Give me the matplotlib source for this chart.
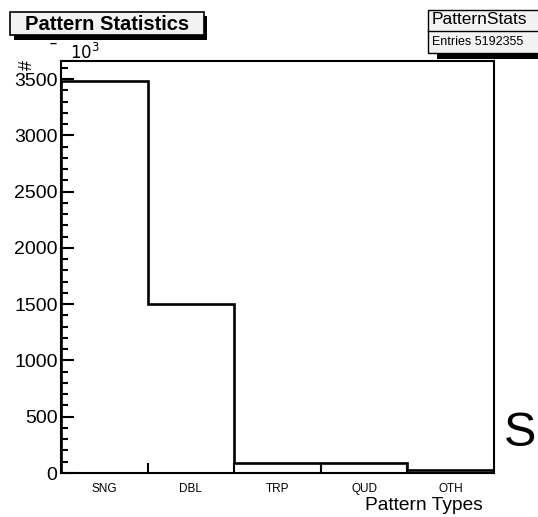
import numpy as np
import matplotlib
matplotlib.use("Agg")
import matplotlib.pyplot as plt
from matplotlib.patches import Rectangle

plt.rcParams["font.family"] = ["Liberation Sans", "DejaVu Sans"]

# pattern counts, in units of 10^3
categories = ["SNG", "DBL", "TRP", "QUD", "OTH"]
counts_k = [3485, 1505, 85, 87, 30]
entries = 5192355

W, H = 538, 517


def fx(x):
    return x / W


def fy(y):
    return 1 - y / H


fig = plt.figure(figsize=(W / 100, H / 100), dpi=100)
ax = fig.add_axes([fx(61), fy(473), fx(494) - fx(61), fy(61) - fy(473)])

edges = np.arange(len(categories) + 1)
ax.stairs(counts_k, edges, baseline=0, color="black", linewidth=1.9)

ax.set_xlim(0, len(categories))
ax.set_ylim(0, 3660)

# x: ticks on the bin edges, labels at bin centres
ax.set_xticks(edges[1:-1])
ax.set_xticklabels([])
ax.set_xticks(edges[:-1] + 0.5, minor=True)
ax.set_xticklabels(categories, minor=True, fontsize=8.5)
ax.tick_params(axis="x", which="major", direction="in", length=7.5, width=1.5)
ax.tick_params(axis="x", which="minor", length=0, pad=7)

ax.set_yticks(np.arange(0, 3501, 500))
ax.set_yticks(np.arange(0, 3601, 100), minor=True)
ax.tick_params(axis="y", which="major", direction="in", length=9.5, width=1.5,
               labelsize=14, pad=2.5)
ax.tick_params(axis="y", which="minor", direction="in", length=5, width=1.5)

for s in ax.spines.values():
    s.set_linewidth(1.5)

fig.text(fx(483), fy(505), "Pattern Types", ha="right", va="center", fontsize=13.8)
fig.text(fx(27), fy(65), "#", ha="center", va="center", fontsize=13, rotation=90)
fig.text(fx(70), fy(52), r"$10^{3}$", ha="left", va="center", fontsize=12,
         math_fontfamily="dejavusans")
fig.text(fx(53), fy(44), "\u2013", ha="center", va="center", fontsize=9,
         fontweight="bold")
fig.text(fx(504), fy(433), "S", ha="left", va="center", fontsize=35)

# title box with shadow
fig.add_artist(Rectangle((fx(14), fy(40)), fx(207) - fx(14), fy(16) - fy(40),
                         transform=fig.transFigure, facecolor="black",
                         edgecolor="black", linewidth=0))
fig.add_artist(Rectangle((fx(10), fy(35)), fx(204) - fx(10), fy(12) - fy(35),
                         transform=fig.transFigure, facecolor="#f2f2f2",
                         edgecolor="black", linewidth=1.2))
fig.text(fx(107), fy(24), "Pattern Statistics", ha="center", va="center",
         fontsize=14.5, fontweight="bold")

# stats box with shadow
fig.add_artist(Rectangle((fx(437), fy(59)), fx(545) - fx(437), fy(16) - fy(59),
                         transform=fig.transFigure, facecolor="black",
                         edgecolor="black", linewidth=0))
fig.add_artist(Rectangle((fx(428), fy(53)), fx(545) - fx(428), fy(10) - fy(53),
                         transform=fig.transFigure, facecolor="#f2f2f2",
                         edgecolor="black", linewidth=1.0))
fig.add_artist(plt.Line2D([fx(428), fx(538)], [fy(31), fy(31)],
                          transform=fig.transFigure, color="black", linewidth=1.0))
fig.text(fx(432), fy(20), "PatternStats", ha="left", va="center", fontsize=12.5)
fig.text(fx(432), fy(42), "Entries " + str(entries), ha="left", va="center",
         fontsize=9)

fig.savefig("out.png", dpi=100)
